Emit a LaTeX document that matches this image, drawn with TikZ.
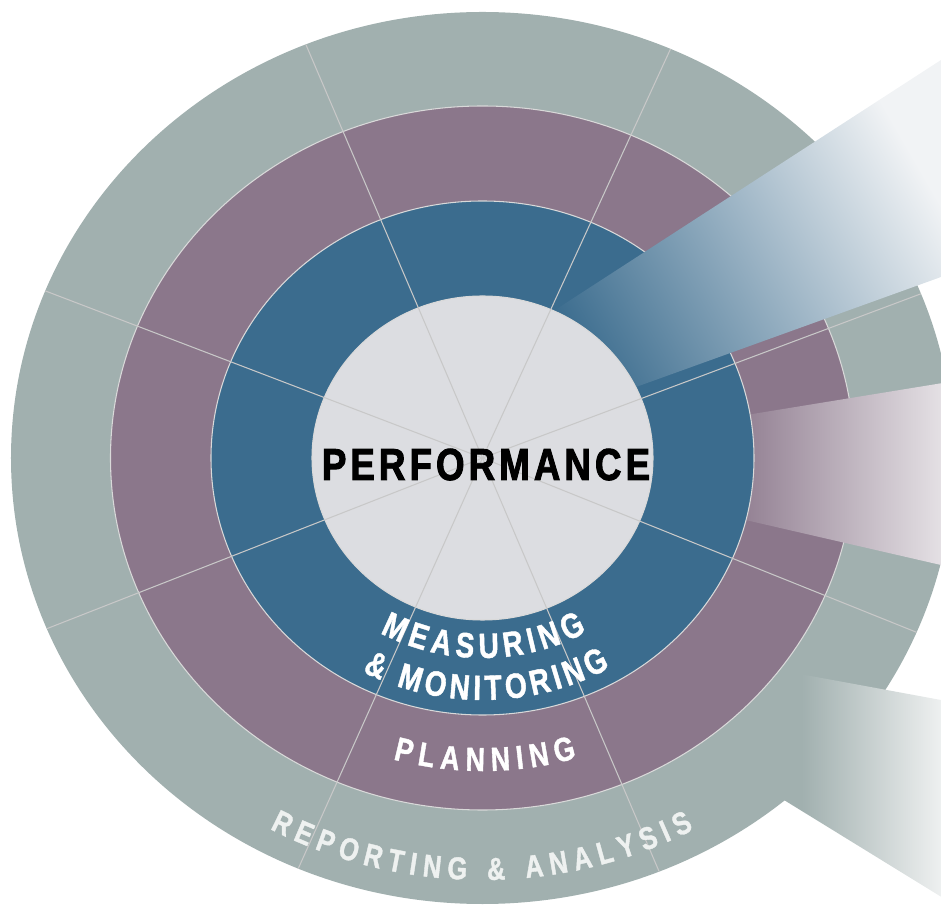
\documentclass[tikz,border=0pt]{standalone}
\usepackage{fontspec}
\usetikzlibrary{decorations.text}

\setmainfont{Liberation Sans}
\newfontfamily\ringfont{Liberation Sans}[FakeStretch=0.8,FakeBold=1.2]
\newfontfamily\perffont{Liberation Sans}[FakeStretch=0.82,FakeBold=2,LetterSpace=9]
\newcommand\ringlabelfont{\ringfont\bfseries\fontsize{20}{22}\selectfont}
\newcommand\planfont{\ringfont\bfseries\fontsize{19}{21}\selectfont}
\newcommand\reportfont{\ringfont\bfseries\fontsize{18}{20}\selectfont}

\definecolor{ringgrey}{HTML}{A1B0AF}
\definecolor{ringpurple}{HTML}{8B778B}
\definecolor{ringblue}{HTML}{3B6C8E}
\definecolor{hubgrey}{HTML}{DCDDE1}
\definecolor{spokegrey}{HTML}{C8C8C8}
\definecolor{fadeblue}{HTML}{F1F3F5}
\definecolor{fadepurple}{HTML}{E4E0E4}
\definecolor{fadegrey}{HTML}{EEF0F0}
\definecolor{reportwhite}{HTML}{EEF1F0}

\tikzset{
	spoke/.style={draw=spokegrey, line width=0.6pt},
	ringedge/.style={draw=spokegrey!70!white, line width=0.6pt},
	ringlabel/.style={decorate, decoration={text along path, text align=fit to path, text color=white, text={#1}}}
}

\begin{document}
\begin{tikzpicture}[x=0.2mm, y=0.2mm]
			%\draw[help lines, step=50] (-480,-450) grid (460,460);
			\useasboundingbox (-482.5,-447) rectangle (458.5,458);
			\clip (-482.5,-447) rectangle (458.5,458);
			\coordinate (hub) at (0,0);

			\fill[ringgrey] (hub) ellipse [x radius=471.5, y radius=446];
			\shade[left color=ringgrey, right color=fadegrey, middle color=ringgrey, shading angle=90] (230,-199.9) -- (458.5,-242) -- (458.5,-438.7) -- (180,-267.2) -- cycle;

			\filldraw[fill=ringpurple, ringedge] (hub) ellipse [x radius=372, y radius=352];
			\shade[left color=ringpurple, right color=fadepurple] (240,39.1) -- (458.5,74.7) -- (458.5,-107) -- (240,-56.7) -- cycle;

			\filldraw[fill=ringblue, ringedge] (hub) ellipse [x radius=271.5, y radius=257];
			\shade[left color=ringblue, right color=fadeblue, shading angle=120] (40,126.9) -- (458.5,398) -- (458.5,181) -- (110,55.3) -- cycle;

			\filldraw[fill=hubgrey, ringedge] (hub) ellipse [x radius=170.5, y radius=162];

			\foreach \a in {21.6,66.5,112,158,202.5,247,292,337}
				\draw[spoke] (hub) -- (\a:471.5 and 446);

			\node[anchor=base, inner sep=0pt, font=\perffont\bfseries\fontsize{25.5}{27}\selectfont] (perf) at (3.5,-22) {PERFORMANCE};

			\path[ringlabel={|\ringlabelfont|MEASURING}] (241:211.2 and 200) arc [start angle=241, end angle=299.6, x radius=211.2, y radius=200];
			\path[ringlabel={|\ringlabelfont|{\&} MONITORING}] (242:255.5 and 242) arc [start angle=242, end angle=300, x radius=255.5, y radius=242];
			\path[ringlabel={|\planfont|PLANNING}] (254.3:330.5 and 313) arc [start angle=254.3, end angle=286.6, x radius=330.5, y radius=313];
			\path[ringlabel={|\reportfont|REPORTING {\&} ANALYSIS}, decoration={text color=reportwhite}] (241.5:445.6 and 422) arc [start angle=241.5, end angle=298.3, x radius=445.6, y radius=422];
		\end{tikzpicture}
\end{document}
